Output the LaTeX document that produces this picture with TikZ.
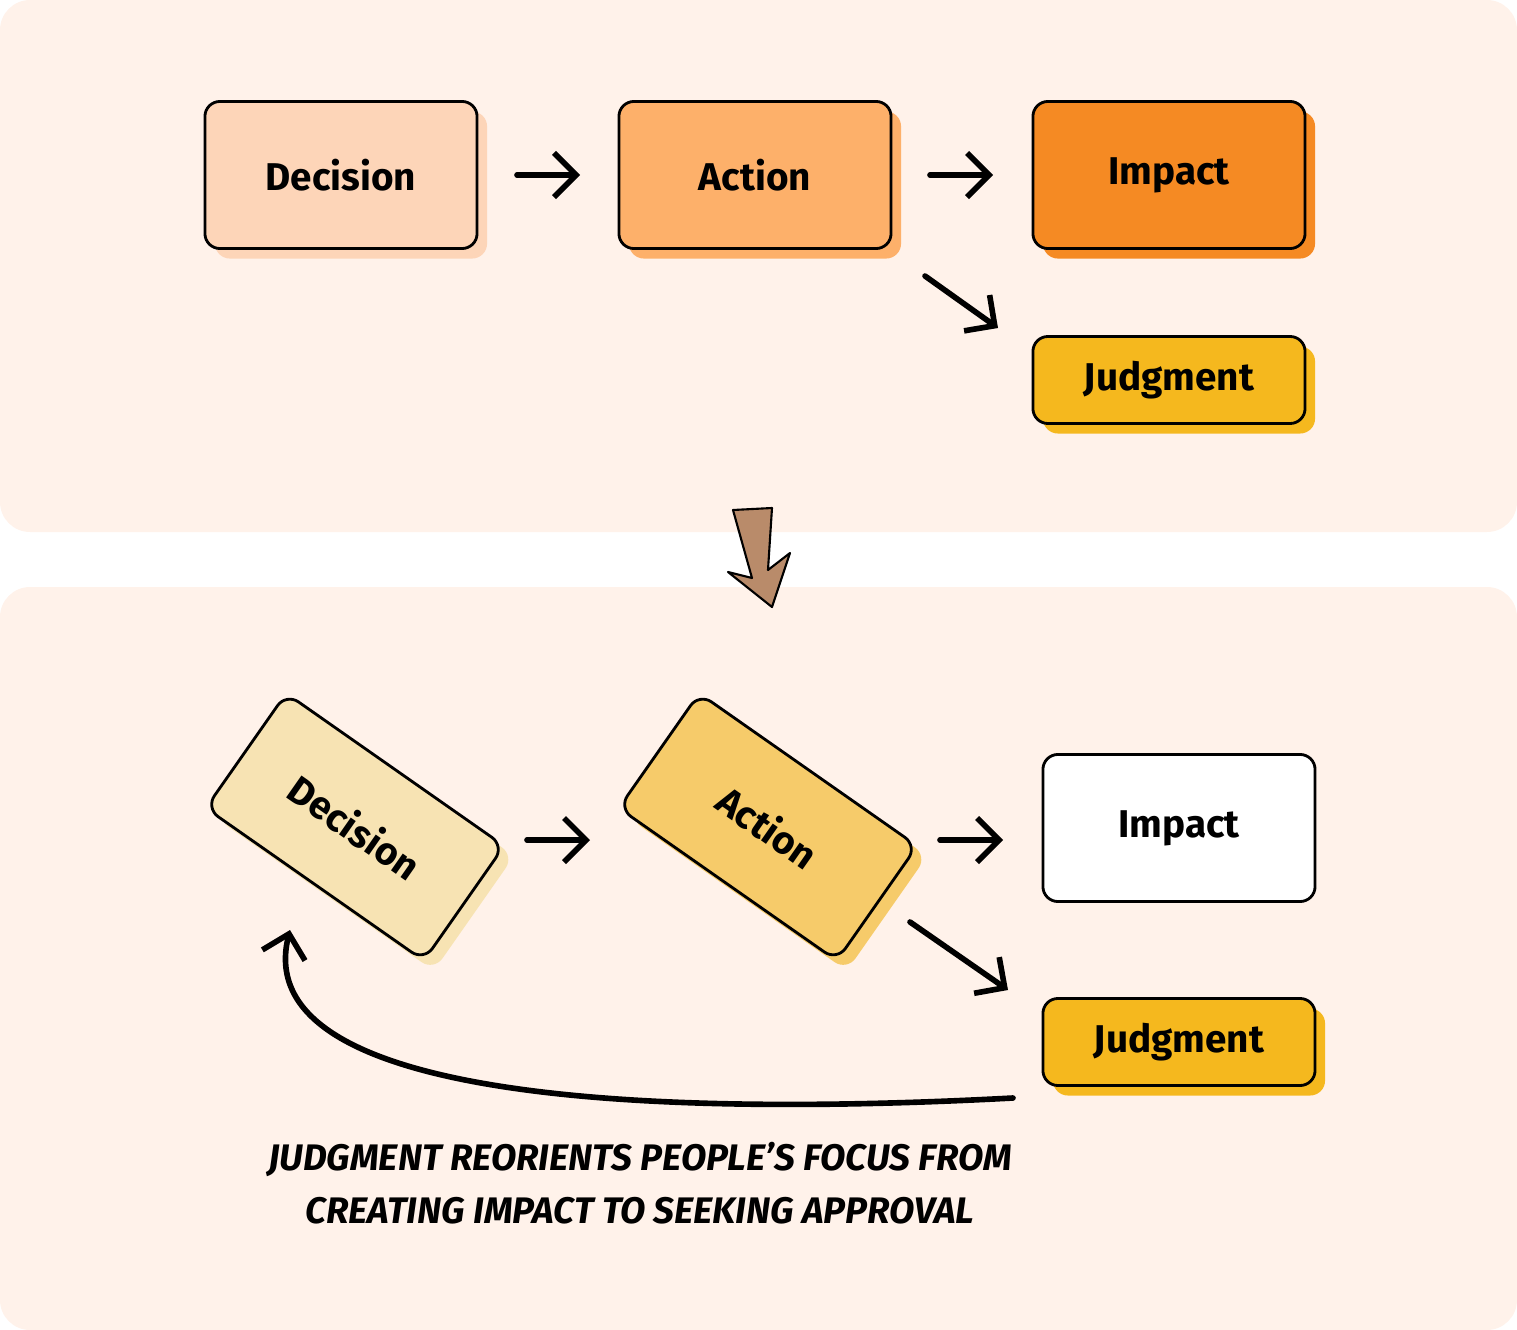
\documentclass[tikz,border=0pt]{standalone}
\usepackage{fontspec}
\setmainfont{Fira Sans}
\usetikzlibrary{arrows.meta, positioning, shadows}
\definecolor{panelbg}{HTML}{FFF2EA}
\definecolor{decA}{HTML}{FDD5B8}
\definecolor{actA}{HTML}{FDB06A}
\definecolor{impA}{HTML}{F58A23}
\definecolor{judA}{HTML}{F5B81E}
\definecolor{decB}{HTML}{F7E3B3}
\definecolor{actB}{HTML}{F6CB6A}
\definecolor{brownarr}{HTML}{B98B6A}
\tikzset{
  box/.style={draw=black, line width=0.8pt, rounded corners=0.15cm, minimum width=2.72cm,
    minimum height=1.47cm, font=\fontsize{11}{13}\selectfont\bfseries, inner sep=0pt},
  shad/.style={drop shadow={shadow xshift=0.1cm, shadow yshift=-0.1cm, fill=#1, opacity=1}},
  flow/.style={-{Straight Barb[length=0.22cm,width=0.44cm]}, line width=1.6pt, line cap=round}
}
\begin{document}
\begin{tikzpicture}[x=0.01cm, y=-0.01cm]
\useasboundingbox (0,0) rectangle (1517,1330);
% panels
\fill [panelbg, rounded corners=0.3cm] (0,0) rectangle (1517,532);
\fill [panelbg, rounded corners=0.3cm] (0,587) rectangle (1517,1330);
% top row
\node [box, fill=decA, shad=decA] (dec1) at (341,175) {Decision};
\node [box, fill=actA, shad=actA] (act1) at (755,175) {Action};
\node [box, fill=impA, shad=impA] (imp1) at (1169,175) {Impact};
\node [box, fill=judA, shad=judA, minimum height=0.87cm] (jud1) at (1169,380) {Judgment};
\coordinate (a1) at (517,175); \coordinate (a2) at (580,175);
\coordinate (b1) at (930,175); \coordinate (b2) at (993,175);
\coordinate (c1) at (925,276); \coordinate (c2) at (998,328);
\draw [flow] (a1) -- (a2);
\draw [flow] (b1) -- (b2);
\draw [flow] (c1) -- (c2);
% brown arrow
\draw [fill=brownarr, line width=0.6pt, line join=round]
  (733,510) -- (772,508) -- (768,570) -- (790,553) -- (772,607) -- (728,572) -- (752,578) -- cycle;
% bottom row
\node [box, fill=decB, shad=decB, minimum width=2.66cm, minimum height=1.4cm, rotate=-35] (dec2) at (355,827) {Decision};
\node [box, fill=actB, shad=actB, minimum width=2.66cm, minimum height=1.4cm, rotate=-35] (act2) at (768,827) {Action};
\node [box, fill=white] (imp2) at (1179,828) {Impact};
\node [box, fill=judA, shad=judA, minimum height=0.87cm] (jud2) at (1179,1042) {Judgment};
\coordinate (d1) at (527,840); \coordinate (d2) at (590,840);
\coordinate (e1) at (940,840); \coordinate (e2) at (1003,840);
\coordinate (f1) at (910,922); \coordinate (f2) at (1008,990);
\coordinate (g1) at (1013,1098); \coordinate (g2) at (290,930);
\draw [flow] (d1) -- (d2);
\draw [flow] (e1) -- (e2);
\draw [flow] (f1) -- (f2);
\draw [flow] (g1) .. controls (600,1120) and (250,1090) .. (g2);
% caption
\node [font=\fontsize{10.5}{15}\selectfont\bfseries\itshape, align=center] (cap) at (640,1183)
  {JUDGMENT REORIENTS PEOPLE'S FOCUS FROM\\CREATING IMPACT TO SEEKING APPROVAL};
\end{tikzpicture}
\end{document}
